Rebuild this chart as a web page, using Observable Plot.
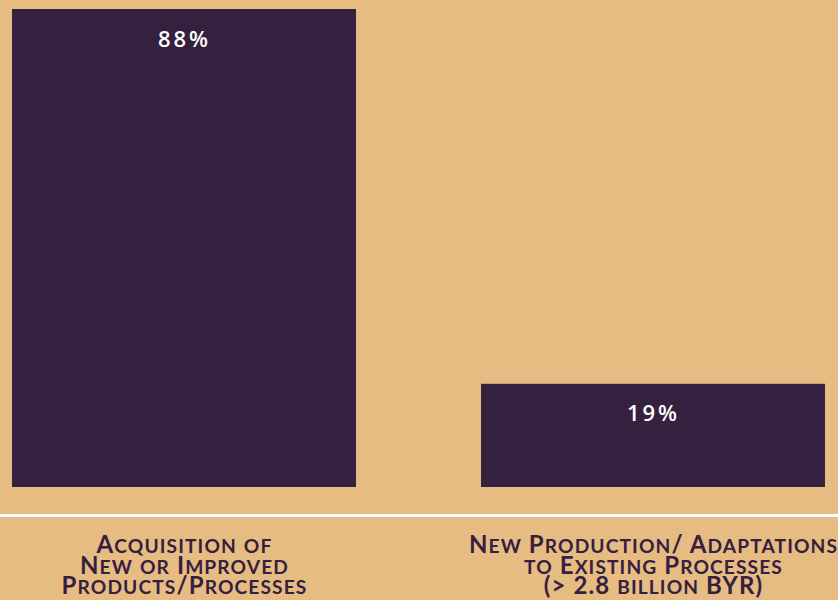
<!DOCTYPE html>
<html>
<head>
<meta charset="utf-8">
<script src="https://cdn.jsdelivr.net/npm/d3@7"></script>
<script src="https://cdn.jsdelivr.net/npm/@observablehq/plot@0.6"></script>
<style>
  html, body { margin: 0; padding: 0; background: #E6BC82; }
  #chart svg { display: block; }
</style>
</head>
<body>
<div id="chart"></div>
<script>
const categories = [
  "Acquisition of\nNew or Improved\nProducts/Processes",
  "New Production/ Adaptations\nto Existing Processes\n(> 2.8 billion BYR)"
];
const values = [88, 19];

const data = categories.map((c, i) => ({category: c, value: values[i], label: `${values[i]}%`}));

const purple = "#36203F";

const chart = Plot.plot({
  width: 838,
  height: 600,
  marginTop: 9,
  marginBottom: 113,
  marginLeft: 11,
  marginRight: 13,
  style: {background: "#E6BC82"},
  x: {domain: categories, paddingInner: 0.267, paddingOuter: 0, axis: null},
  y: {domain: [0, 88], axis: null},
  marks: [
    Plot.barY(data, {x: "category", y: "value", fill: purple}),
    Plot.text(data, {
      x: "category", y: "value", text: "label", dy: 30,
      fill: "white", fontSize: 22, fontWeight: 600,
      fontFamily: "Open Sans, sans-serif"
    }),
    Plot.ruleY([0], {stroke: "white", strokeWidth: 3, dy: 28, insetLeft: -11, insetRight: -13}),
    Plot.text(data, {
      x: "category", y: 0, text: "category", dy: 51,
      lineAnchor: "top", lineHeight: 0.86,
      fill: purple, fontSize: 24, fontWeight: 700,
      fontFamily: "Lato, sans-serif"
    })
  ]
});

const textGroups = d3.select(chart).selectAll('g[aria-label="text"]').nodes();
// value labels: spaced digits
d3.select(textGroups[0]).style("letter-spacing", "3px");
// category labels: true small caps (lowercase letters become smaller capitals)
d3.select(textGroups[1]).style("letter-spacing", "1.1px");
d3.select(textGroups[1]).selectAll("tspan").each(function() {
  const t = this.textContent;
  const runs = t.match(/[a-z]+|[^a-z]+/g) || [];
  this.textContent = "";
  for (const r of runs) {
    const s = document.createElementNS("http://www.w3.org/2000/svg", "tspan");
    s.textContent = r.toUpperCase();
    if (/[a-z]/.test(r)) s.setAttribute("font-size", "80%");
    this.appendChild(s);
  }
});

document.getElementById("chart").append(chart);
</script>
</body>
</html>
